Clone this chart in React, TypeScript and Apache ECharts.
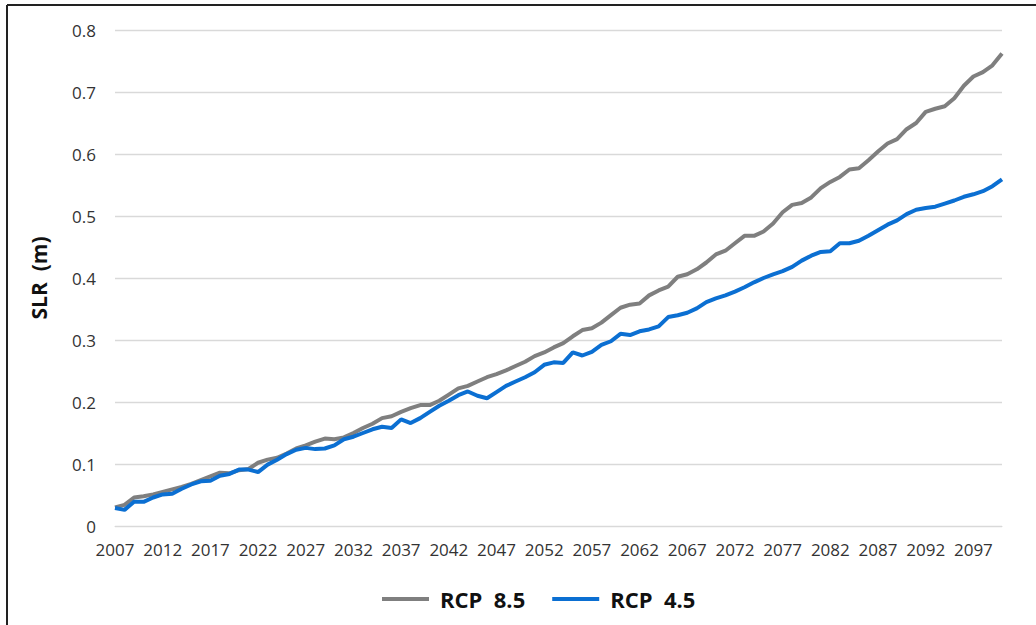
import React, { useEffect, useRef } from "react";
import * as echarts from "echarts";

const years: string[] = [
  "2007","2008","2009","2010","2011","2012","2013","2014","2015","2016",
  "2017","2018","2019","2020","2021","2022","2023","2024","2025","2026",
  "2027","2028","2029","2030","2031","2032","2033","2034","2035","2036",
  "2037","2038","2039","2040","2041","2042","2043","2044","2045","2046",
  "2047","2048","2049","2050","2051","2052","2053","2054","2055","2056",
  "2057","2058","2059","2060","2061","2062","2063","2064","2065","2066",
  "2067","2068","2069","2070","2071","2072","2073","2074","2075","2076",
  "2077","2078","2079","2080","2081","2082","2083","2084","2085","2086",
  "2087","2088","2089","2090","2091","2092","2093","2094","2095","2096",
  "2097","2098","2099","2100",
];

const rcp85: number[] = [
  0.030, 0.034, 0.046, 0.048, 0.051, 0.055, 0.059, 0.063, 0.068, 0.074,
  0.080, 0.086, 0.085, 0.090, 0.092, 0.102, 0.107, 0.110, 0.117, 0.125,
  0.130, 0.136, 0.141, 0.140, 0.143, 0.150, 0.158, 0.165, 0.174, 0.177,
  0.184, 0.190, 0.195, 0.195, 0.202, 0.212, 0.222, 0.226, 0.233, 0.240,
  0.245, 0.251, 0.258, 0.265, 0.274, 0.280, 0.288, 0.295, 0.306, 0.316,
  0.319, 0.328, 0.340, 0.352, 0.357, 0.359, 0.372, 0.380, 0.386, 0.402,
  0.406, 0.414, 0.425, 0.438, 0.444, 0.456, 0.468, 0.468, 0.475, 0.488,
  0.506, 0.518, 0.521, 0.530, 0.545, 0.555, 0.563, 0.575, 0.577, 0.590,
  0.604, 0.617, 0.624, 0.640, 0.650, 0.668, 0.673, 0.677, 0.690, 0.710,
  0.725, 0.732, 0.743, 0.762,
];

const rcp45: number[] = [
  0.029, 0.026, 0.039, 0.039, 0.046, 0.051, 0.052, 0.060, 0.067, 0.072,
  0.073, 0.081, 0.084, 0.091, 0.091, 0.087, 0.099, 0.107, 0.116, 0.123,
  0.126, 0.124, 0.125, 0.130, 0.140, 0.144, 0.150, 0.156, 0.160, 0.158,
  0.172, 0.166, 0.174, 0.184, 0.194, 0.202, 0.211, 0.217, 0.210, 0.206,
  0.216, 0.226, 0.233, 0.240, 0.248, 0.260, 0.264, 0.263, 0.280, 0.275,
  0.281, 0.292, 0.298, 0.310, 0.308, 0.314, 0.317, 0.322, 0.337, 0.340,
  0.344, 0.351, 0.361, 0.367, 0.372, 0.378, 0.385, 0.393, 0.400, 0.406,
  0.411, 0.418, 0.428, 0.436, 0.442, 0.443, 0.456, 0.456, 0.460, 0.468,
  0.477, 0.486, 0.493, 0.503, 0.510, 0.513, 0.515, 0.520, 0.525, 0.531,
  0.535, 0.540, 0.548, 0.559,
];

const seriesNames = ["RCP  8.5", "RCP  4.5"];
const yAxisTitle = "SLR  (m)";

const FONT = "'Open Sans', 'Noto Sans', sans-serif";

export default function App() {
  const ref = useRef<HTMLDivElement>(null);

  useEffect(() => {
    if (!ref.current) return;
    const chart = echarts.init(ref.current, undefined, { renderer: "svg" });
    chart.setOption({
      animation: false,
      backgroundColor: "#ffffff",
      textStyle: { fontFamily: FONT },
      grid: { left: 115, right: 34, top: 30, bottom: 99, containLabel: false },
      graphic: [
        {
          type: "line",
          shape: { x1: 7, y1: 5, x2: 1036, y2: 5 },
          style: { stroke: "#222", lineWidth: 2 },
        },
        {
          type: "line",
          shape: { x1: 7, y1: 5, x2: 7, y2: 625 },
          style: { stroke: "#222", lineWidth: 2 },
        },
      ],
      legend: {
        bottom: 10,
        left: 377,
        itemWidth: 47,
        itemHeight: 4,
        itemGap: 27,
        icon: "rect",
        textStyle: {
          fontFamily: FONT,
          fontSize: 22,
          fontWeight: "bold",
          color: "#111",
          padding: [0, 0, 0, 6],
        },
        data: seriesNames,
      },
      xAxis: {
        type: "category",
        data: years,
        boundaryGap: false,
        axisLine: { show: true, lineStyle: { color: "#d9d9d9", width: 1 } },
        axisTick: { show: false },
        axisLabel: {
          interval: 4,
          margin: 15,
          fontSize: 17,
          color: "#333",
          fontFamily: FONT,
        },
        splitLine: { show: false },
      },
      yAxis: {
        type: "value",
        min: 0,
        max: 0.8,
        interval: 0.1,
        name: yAxisTitle,
        nameLocation: "middle",
        nameGap: 66,
        nameTextStyle: {
          fontFamily: FONT,
          fontSize: 21,
          fontWeight: "bold",
          color: "#111",
        },
        axisLine: { show: false },
        axisTick: { show: false },
        axisLabel: {
          margin: 19,
          fontSize: 17,
          color: "#333",
          fontFamily: FONT,
          formatter: (v: number) => (v === 0 ? "0" : v.toFixed(1)),
        },
        splitLine: { show: true, lineStyle: { color: "#d9d9d9", width: 1.3 } },
      },
      series: [
        {
          name: seriesNames[0],
          type: "line",
          data: rcp85,
          showSymbol: false,
          symbol: "none",
          color: "#7f7f7f",
          lineStyle: { color: "#7f7f7f", width: 4 },
          z: 2,
        },
        {
          name: seriesNames[1],
          type: "line",
          data: rcp45,
          showSymbol: false,
          symbol: "none",
          color: "#0b6fd2",
          lineStyle: { color: "#0b6fd2", width: 4 },
          z: 3,
        },
      ],
    });
    return () => chart.dispose();
  }, []);

  return (
    <div
      ref={ref}
      style={{ position: "fixed", left: 0, top: 0, width: 1036, height: 625 }}
    />
  );
}
